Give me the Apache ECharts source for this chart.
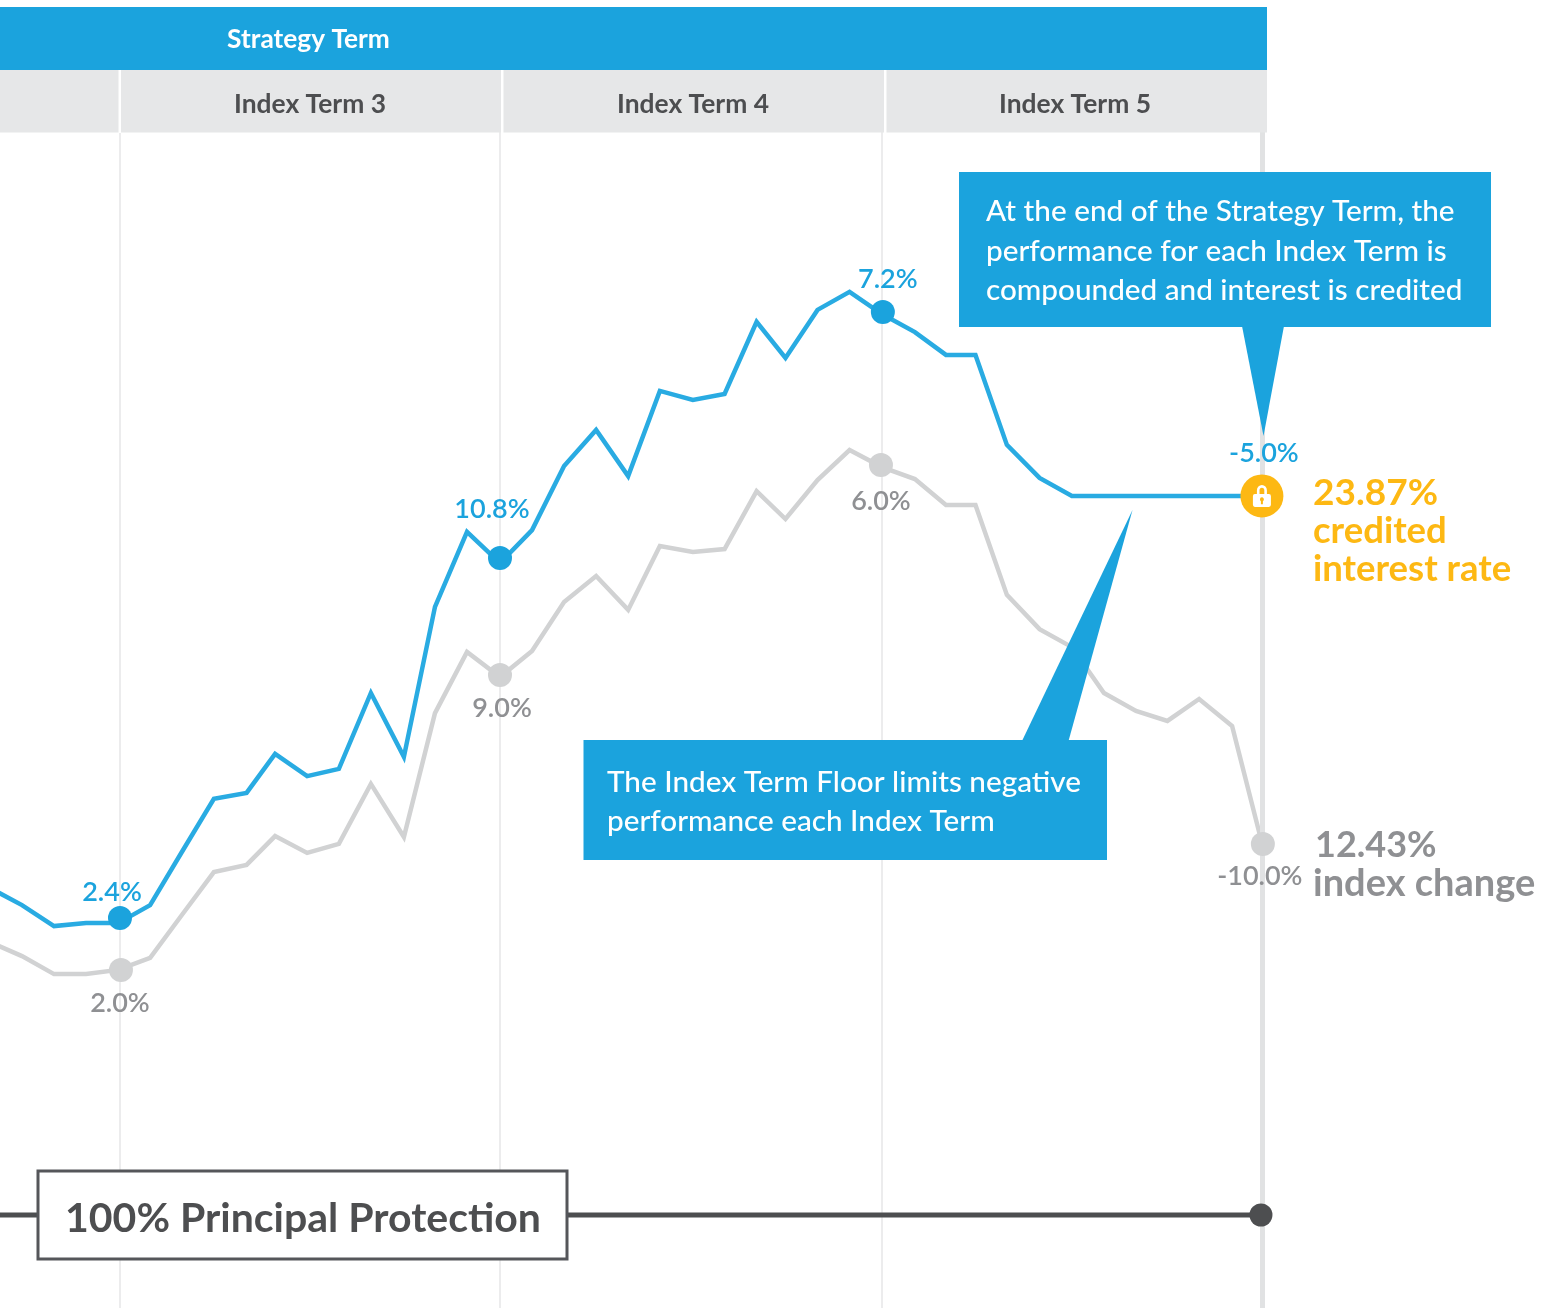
<!DOCTYPE html>
<html>
<head>
<meta charset="utf-8">
<style>html,body{margin:0;padding:0;background:#fff}#c{width:1555px;height:1308px}</style>
<script src="https://cdn.jsdelivr.net/npm/echarts@6/dist/echarts.min.js"></script>
</head>
<body>
<div id="c"></div>
<script>
// Months since the start of Index Term 3
var months = [-4.10,-3.09,-2.08,-1.07,-0.06,0.95,1.95,2.96,3.99,4.89,5.90,6.90,7.91,8.95,9.93,10.94,11.98,12.99,14.00,15.01,16.02,17.02,18.06,19.06,20.07,20.98,21.99,23.00,24.02,25.06,26.04,26.97,27.96,28.99,30.01,31.02,32.03,33.02,34.02,35.06,36.00];
// Strategy value (start = 100)
var strategyValues = [110.90,110.33,109.63,109.73,109.73,110.33,112.10,113.87,114.07,115.37,114.63,114.87,117.40,115.27,120.27,122.77,121.73,122.83,124.97,126.17,124.63,127.47,127.17,127.37,129.77,128.57,130.17,130.77,130.03,129.43,128.67,128.67,125.67,124.57,123.97,123.97,123.97,123.97,123.97,123.97,123.97];
// Index value (start = 100)
var indexValues = [109.10,108.63,108.03,108.03,108.17,108.57,110.00,111.43,111.67,112.63,112.07,112.37,114.37,112.60,116.73,118.77,117.93,118.80,120.43,121.30,120.17,122.30,122.10,122.20,124.13,123.20,124.50,125.50,124.93,124.53,123.67,123.67,120.67,119.53,118.93,117.40,116.80,116.47,117.20,116.30,112.40];
var termEnds = [0, 11.98, 24, 36];
var strategyDotMonths = [0.00, 11.98, 24.05];
var strategyDotValues = [109.90, 121.90, 130.10];
var strategyDotLabels = ['2.4%', '10.8%', '7.2%'];
var indexDotMonths = [0.03, 11.98, 23.99, 36.03];
var indexDotValues = [108.17, 118.00, 125.00, 112.37];
var indexDotLabels = ['2.0%', '9.0%', '6.0%', '-10.0%'];
var creditedLabel = '-5.0%';
var principalMonths = [-4.10, 35.97];
var principalValues = [100, 100];
var indexTermNames = ['Index Term 3', 'Index Term 4', 'Index Term 5'];

var FONT = '"Lato Medium", Lato';
var LABELFONT = '"Lato Semibold", "Lato Medium", Lato';
var BLUE = '#1ba3dd', LINEBLUE = '#29abe2', GREY = '#d1d2d3', TXTGREY = '#8f9093', DARK = '#4d4e50', GOLD = '#fdb813';
var LOCK = 'path://M4 10V6.5a5 5 0 0 1 10 0V10h-2.6V6.5a2.4 2.4 0 0 0-4.8 0V10ZM2 10H16a2 2 0 0 1 2 2V20a2 2 0 0 1-2 2H2a2 2 0 0 1-2-2V12a2 2 0 0 1 2-2ZM9 13a2 2 0 0 0-1 3.7V19.5H10V16.7A2 2 0 0 0 9 13Z';

function zip(a, b) { return a.map(function (v, i) { return [v, b[i]]; }); }
function dots(xs, ys, labels, offsets) {
  return xs.map(function (x, i) {
    return { value: [x, ys[i]], label: { formatter: labels[i], offset: offsets[i] } };
  });
}
function txt(text, x, y, size, weight, fill, align, z) {
  return { type: 'text', z: z || 20, silent: true, style: { text: text, x: x, y: y, fontFamily: weight === 700 ? 'Lato' : FONT, fontSize: size, fontWeight: weight, fill: fill, align: align || 'left', verticalAlign: 'middle' } };
}
function rect(x, y, w, h, fill, z) {
  return { type: 'rect', z: z, silent: true, shape: { x: x, y: y, width: w, height: h }, style: { fill: fill } };
}
function poly(pts, fill, z) {
  return { type: 'polygon', z: z, silent: true, shape: { points: pts }, style: { fill: fill } };
}

var blueOffsets = [[-8, -26], [-8, -49], [5, -33]];
var greyOffsets = [[-1, 33], [2, 33], [0, 36], [-3, 32]];

var graphics = [
  rect(0, 0, 1555, 7, '#ffffff', 9),
  rect(0, 7, 1267, 63, BLUE, 10),
  rect(0, 70, 1267, 62.5, '#e6e7e8', 10),
  rect(118.5, 70, 2.5, 63, '#ffffff', 11),
  rect(501, 70, 2.5, 63, '#ffffff', 11),
  rect(884, 70, 2.5, 63, '#ffffff', 11),
  txt('Strategy Term', 308.5, 40, 26.3, 700, '#ffffff', 'center', 12),
  txt(indexTermNames[0], 310, 104.5, 26.4, 700, DARK, 'center', 12),
  txt(indexTermNames[1], 693, 104.5, 26.4, 700, DARK, 'center', 12),
  txt(indexTermNames[2], 1075, 104.5, 26.4, 700, DARK, 'center', 12),

  rect(959, 172, 532, 155, BLUE, 10),
  poly([[1242, 326], [1284, 326], [1263.5, 436]], BLUE, 10),
  txt('At the end of the Strategy Term, the', 986, 211, 29.7, 500, '#ffffff'),
  txt('performance for each Index Term is', 986, 251, 29.7, 500, '#ffffff'),
  txt('compounded and interest is credited', 986, 290, 29.7, 500, '#ffffff'),

  rect(583.5, 740, 523.5, 120, BLUE, 10),
  poly([[1022, 741], [1068.5, 741], [1132.5, 510]], BLUE, 10),
  txt('The Index Term Floor limits negative', 607, 782, 29.7, 500, '#ffffff'),
  txt('performance each Index Term', 607, 821, 29.7, 500, '#ffffff'),

  txt('23.87%', 1313, 493, 37, 700, GOLD),
  txt('credited', 1313, 531, 36.5, 700, GOLD),
  txt('interest rate', 1313, 569, 36.5, 700, GOLD),
  txt('12.43%', 1315, 845, 36, 700, TXTGREY),
  txt('index change', 1313, 884, 38, 700, TXTGREY),

  { type: 'rect', z: 10, silent: true, shape: { x: 38, y: 1171, width: 529, height: 88 }, style: { fill: '#ffffff', stroke: '#55565a', lineWidth: 3 } },
  txt('100% Principal Protection', 303, 1219, 41, 700, DARK, 'center', 12)
];

var chart = echarts.init(document.getElementById('c'), null, { renderer: 'canvas', width: 1555, height: 1308 });
chart.setOption({
  animation: false,
  backgroundColor: '#ffffff',
  grid: { left: 0, right: 0, top: 0, bottom: 0 },
  xAxis: { type: 'value', min: -3.783, max: 45.24, show: false },
  yAxis: { type: 'value', min: 96.9, max: 140.5, show: false },
  graphic: graphics,
  series: [
    {
      name: 'Term ends', type: 'line', z: 1, data: [], silent: true,
      markLine: {
        silent: true, symbol: 'none', animation: false, label: { show: false },
        data: termEnds.map(function (m, i) {
          return { xAxis: m, lineStyle: { color: i === 3 ? '#e1e2e3' : '#ececed', width: i === 3 ? 5 : 2, type: 'solid' } };
        })
      }
    },
    {
      name: 'Index', type: 'line', z: 3, showSymbol: false, silent: true, data: zip(months, indexValues),
      lineStyle: { color: GREY, width: 4.5, join: 'miter', miterLimit: 10 }
    },
    {
      name: 'Strategy', type: 'line', z: 4, showSymbol: false, silent: true, data: zip(months, strategyValues),
      lineStyle: { color: LINEBLUE, width: 4.5, join: 'miter', miterLimit: 10 }
    },
    {
      name: 'Principal', type: 'line', z: 5, showSymbol: false, silent: true, data: zip(principalMonths, principalValues),
      lineStyle: { color: DARK, width: 5 }
    },
    {
      name: 'Principal end', type: 'scatter', z: 6, silent: true, symbol: 'circle', symbolSize: 23,
      data: [[principalMonths[1], principalValues[1]]], itemStyle: { color: DARK, opacity: 1 }
    },
    {
      name: 'Strategy terms', type: 'scatter', z: 6, silent: true, symbolSize: 24, itemStyle: { color: BLUE, opacity: 1 },
      label: { show: true, position: 'inside', color: BLUE, fontFamily: LABELFONT, fontSize: 27, fontWeight: 600 },
      data: dots(strategyDotMonths, strategyDotValues, strategyDotLabels, blueOffsets)
    },
    {
      name: 'Index terms', type: 'scatter', z: 6, silent: true, symbolSize: 24, itemStyle: { color: GREY, opacity: 1 },
      label: { show: true, position: 'inside', color: TXTGREY, fontFamily: LABELFONT, fontSize: 27, fontWeight: 600 },
      data: dots(indexDotMonths, indexDotValues, indexDotLabels, greyOffsets)
    },
    {
      name: 'Credited', type: 'scatter', z: 6, silent: true, symbolSize: 43, itemStyle: { color: GOLD, opacity: 1 },
      label: { show: true, position: 'inside', color: BLUE, fontFamily: LABELFONT, fontSize: 27, fontWeight: 600, offset: [2, -43], formatter: creditedLabel },
      data: [[months[months.length - 1], strategyValues[strategyValues.length - 1]]]
    },
    {
      name: 'Lock', type: 'scatter', z: 7, silent: true, symbol: LOCK, symbolSize: [18, 22], itemStyle: { color: '#ffffff', opacity: 1 },
      data: [[months[months.length - 1], strategyValues[strategyValues.length - 1]]]
    }
  ]
});
</script>
</body>
</html>
